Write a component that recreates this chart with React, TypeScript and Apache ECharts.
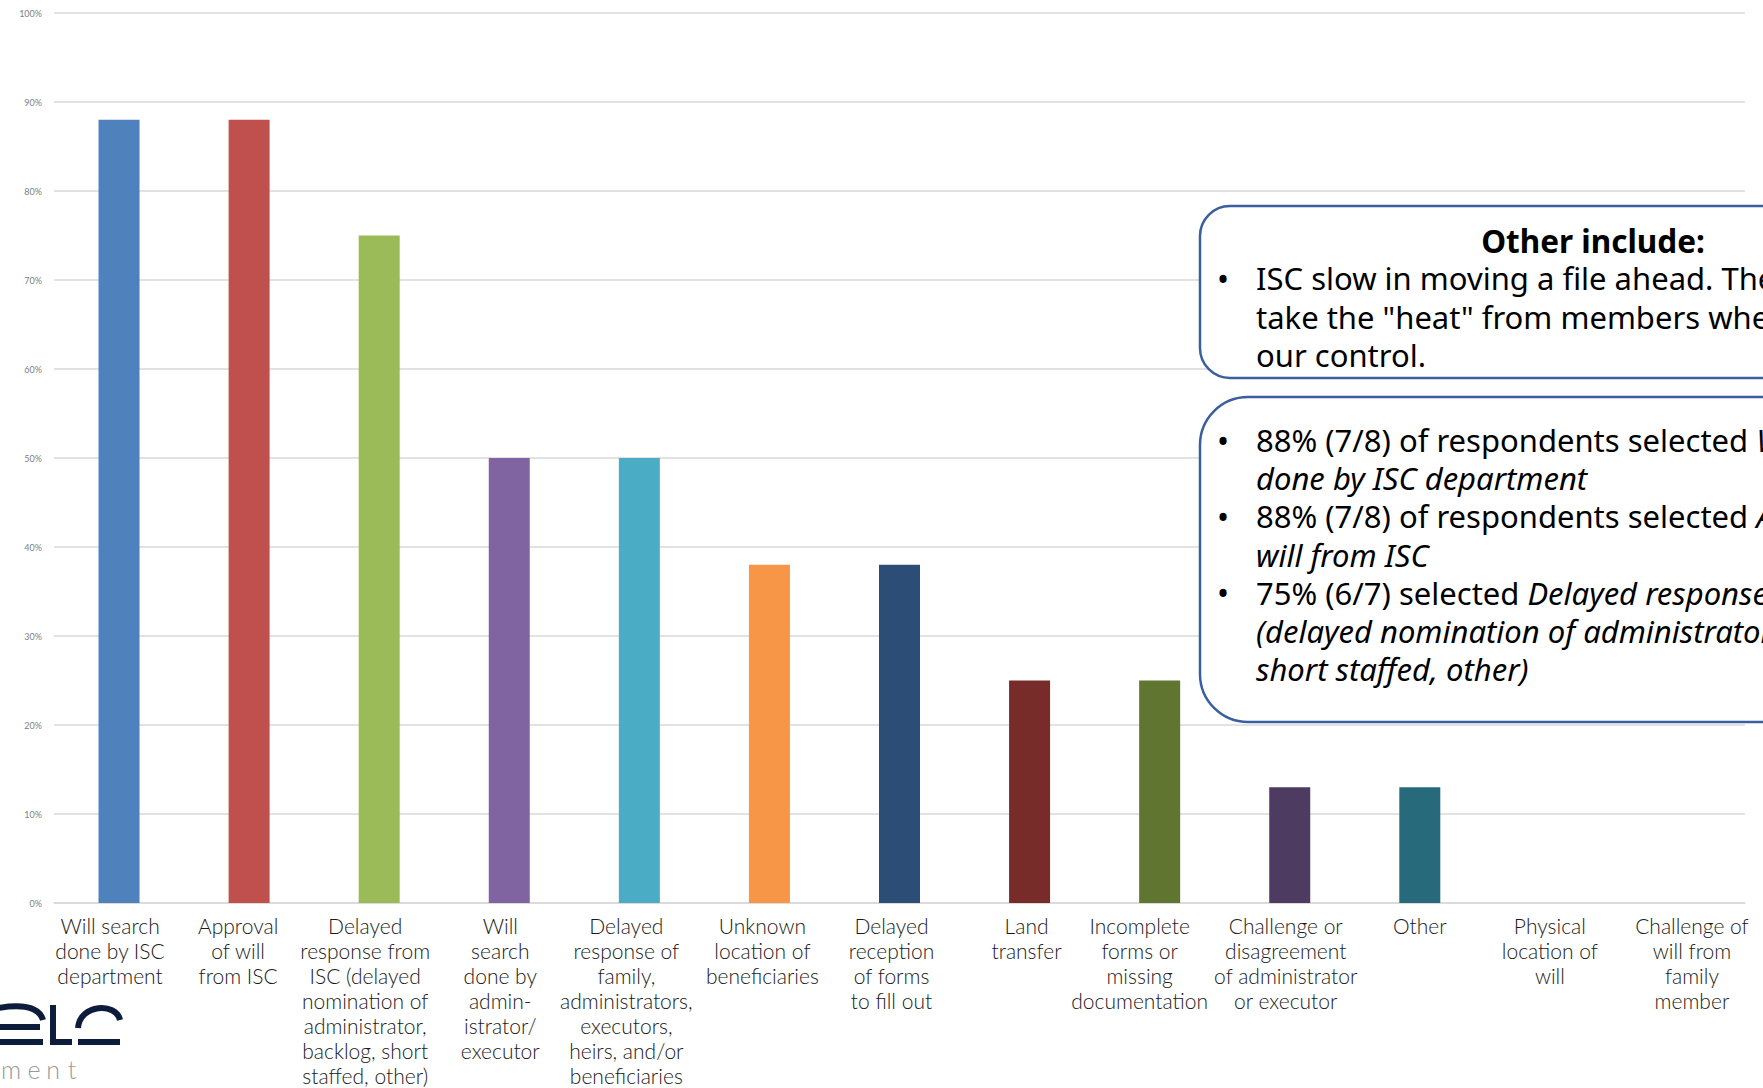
import React, { useEffect, useRef } from "react";
import * as echarts from "echarts";

const categories = [
  "Will search\ndone by ISC\ndepartment",
  "Approval\nof will\nfrom ISC",
  "Delayed\nresponse from\nISC (delayed\nnomination of\nadministrator,\nbacklog, short\nstaffed, other)",
  "Will\nsearch\ndone by\nadmin-\nistrator/\nexecutor",
  "Delayed\nresponse of\nfamily,\nadministrators,\nexecutors,\nheirs, and/or\nbeneficiaries",
  "Unknown\nlocation of\nbeneficiaries",
  "Delayed\nreception\nof forms\nto fill out",
  "Land\ntransfer",
  "Incomplete\nforms or\nmissing\ndocumentation",
  "Challenge or\ndisagreement\nof administrator\nor executor",
  "Other",
  "Physical\nlocation of\nwill",
  "Challenge of\nwill from\nfamily\nmember",
];

const values = [88, 88, 75, 50, 50, 38, 38, 25, 25, 13, 13, 0, 0];

const barColors = [
  "#4F81BD", "#C0504D", "#9BBB59", "#8064A2", "#4BACC6", "#F79646",
  "#2C4D75", "#772C2A", "#5F7530", "#4D3B62", "#276A7C", "#4F81BD", "#C0504D",
];

// horizontal nudge of each category label (px), as placed on the slide
const labelNudge = [-9, -11, -14, -9, -13, -7, -8, -3, -20, -4, 0, 0, 12];

const yMin = 0;
const yMax = 100;
const yStep = 10;

const otherTitle = "Other include:";
const otherLines = [
  "ISC slow in moving a file ahead. They do not",
  'take the "heat" from members when it is out of',
  "our control.",
];

// each line: [normal part, italic part]
const summaryLines: [string, string][] = [
  ["88% (7/8) of respondents selected ", "Will search"],
  ["", "done by ISC department"],
  ["88% (7/8) of respondents selected ", "Approval of"],
  ["", "will from ISC"],
  ["75% (6/7) selected ", "Delayed response from ISC"],
  ["", "(delayed nomination of administrator, backlog,"],
  ["", "short staffed, other)"],
];
const summaryBullets = [true, false, true, false, true, false, false];

const FONT = "Lato, 'Noto Sans', sans-serif";
const BOXFONT = "'Noto Sans', Lato, sans-serif";

export default function App() {
  const ref = useRef<HTMLDivElement>(null);

  useEffect(() => {
    document.body.style.margin = "0";
    if (!ref.current) return;
    const chart = echarts.init(ref.current, undefined, { renderer: "svg" });

    const logoColor = "#0e1c3c";
    const logoStroke = { stroke: logoColor, lineWidth: 6, fill: "none" };

    const labelStyleBase = {
      fontFamily: FONT,
      fontWeight: 300,
      fontSize: 21,
      lineHeight: 25,
      color: "#1a1a1a",
      align: "center",
    };
    const rich: Record<string, any> = {};
    labelNudge.forEach((d, i) => {
      rich["l" + i] = {
        ...labelStyleBase,
        padding: [0, d < 0 ? -2 * d : 0, 0, d > 0 ? 2 * d : 0],
      };
    });

    const graphics: any[] = [
      // Box 1
      {
        type: "rect",
        shape: { x: 1200, y: 206, width: 800, height: 172, r: 30 },
        style: { fill: "#ffffff", stroke: "#3A5F9E", lineWidth: 2.5 },
        z: 10,
      },
      {
        type: "text",
        x: 1593,
        y: 240,
        style: {
          text: otherTitle,
          font: `bold 31.5px ${BOXFONT}`,
          fill: "#000000",
          align: "center",
          verticalAlign: "middle",
        },
        z: 11,
      },
      ...otherLines.map((t, i) => ({
        type: "text",
        x: 1256,
        y: 278 + i * 38.6,
        style: {
          text: t,
          font: `31px ${BOXFONT}`,
          fill: "#000000",
          align: "left",
          verticalAlign: "middle",
        },
        z: 11,
      })),
      {
        type: "text",
        x: 1223,
        y: 278,
        style: { text: "•", font: `32px ${BOXFONT}`, fill: "#000", align: "center", verticalAlign: "middle" },
        z: 11,
      },
      // Box 2
      {
        type: "rect",
        shape: { x: 1200, y: 397, width: 800, height: 325, r: 48 },
        style: { fill: "#ffffff", stroke: "#3A5F9E", lineWidth: 2.5 },
        z: 10,
      },
      ...summaryLines.map(([n, it], i) => ({
        type: "text",
        x: 1256,
        y: 440 + i * 38.2,
        style: {
          text: (n ? `{n|${n}}` : "") + (it ? `{i|${it}}` : ""),
          font: `31px ${BOXFONT}`,
          fill: "#000000",
          align: "left",
          verticalAlign: "middle",
          rich: {
            n: { font: `31px ${BOXFONT}`, fill: "#000" },
            i: { font: `italic 31px ${BOXFONT}`, fill: "#000" },
          },
        },
        z: 11,
      })),
      ...summaryBullets
        .map((b, i) => (b ? i : -1))
        .filter((i) => i >= 0)
        .map((i) => ({
          type: "text",
          x: 1223,
          y: 440 + i * 38.2,
          style: { text: "•", font: `32px ${BOXFONT}`, fill: "#000", align: "center", verticalAlign: "middle" },
          z: 11,
        })),
      // Logo (partial)
      { type: "bezierCurve", shape: { x1: -2, y1: 1008, cpx1: 28, cpy1: 1003, cpx2: 40, cpy2: 1010, x2: 43, y2: 1020 }, style: logoStroke },
      { type: "line", shape: { x1: 0, y1: 1027, x2: 40, y2: 1027 }, style: logoStroke },
      { type: "line", shape: { x1: 0, y1: 1042, x2: 43, y2: 1042 }, style: logoStroke },
      { type: "line", shape: { x1: 53, y1: 1005, x2: 53, y2: 1045 }, style: logoStroke },
      { type: "line", shape: { x1: 50, y1: 1042, x2: 72, y2: 1042 }, style: logoStroke },
      { type: "bezierCurve", shape: { x1: 78, y1: 1028, cpx1: 80, cpy1: 1004, cpx2: 116, cpy2: 1002, x2: 120, y2: 1020 }, style: logoStroke },
      { type: "line", shape: { x1: 78, y1: 1042, x2: 120, y2: 1042 }, style: logoStroke },
      ...["m", "e", "n", "t"].map((ch, i) => ({
        type: "text",
        x: [11, 34, 53, 72][i],
        y: 1069,
        style: { text: ch, font: `300 25px ${FONT}`, fill: "#9a9a9a", align: "center", verticalAlign: "middle" },
      })),
    ];

    chart.setOption({
      animation: false,
      backgroundColor: "#ffffff",
      grid: { left: 54, right: 18, top: 13, bottom: 185, containLabel: false },
      xAxis: {
        type: "category",
        data: categories,
        axisLine: { show: true, lineStyle: { color: "#d9d9d9", width: 1.5 } },
        axisTick: { show: false },
        axisLabel: {
          interval: 0,
          margin: 10,
          ...labelStyleBase,
          verticalAlign: "top",
          formatter: (v: string, i: number) =>
            v
              .split("\n")
              .map((line) => `{l${i}|${line}}`)
              .join("\n"),
          rich,
        },
      },
      yAxis: {
        type: "value",
        min: yMin,
        max: yMax,
        interval: yStep,
        axisLine: { show: false },
        axisTick: { show: false },
        splitLine: { lineStyle: { color: "#d9d9d9", width: 1.5 } },
        axisLabel: {
          formatter: "{value}%",
          fontSize: 9,
          fontFamily: FONT,
          color: "#808080",
          margin: 12,
        },
      },
      series: [
        {
          type: "bar",
          barWidth: 41,
          data: values.map((v, i) => ({ value: v, itemStyle: { color: barColors[i] } })),
        },
      ],
      graphic: graphics,
    });

    return () => chart.dispose();
  }, []);

  return <div ref={ref} style={{ width: 1763, height: 1088 }} />;
}
